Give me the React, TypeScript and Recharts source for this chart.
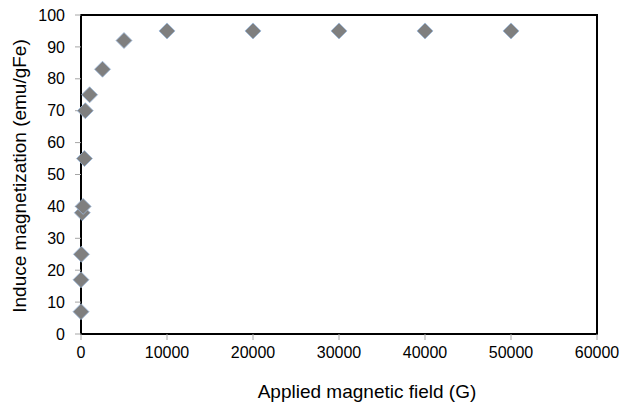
import React from 'react';
import { ScatterChart, Scatter, XAxis, YAxis, ReferenceArea } from 'recharts';

const fieldG = [0, 0, 50, 150, 250, 400, 500, 1000, 2500, 5000, 10000, 20000, 30000, 40000, 50000];
const magnetization = [7, 17, 25, 38, 40, 55, 70, 75, 83, 92, 95, 95, 95, 95, 95];
const xTicks = [0, 10000, 20000, 30000, 40000, 50000, 60000];
const yTicks = [0, 10, 20, 30, 40, 50, 60, 70, 80, 90, 100];

const data = fieldG.map((x, i) => ({ x, y: magnetization[i] }));

const FONT = '"Liberation Sans", Arial, sans-serif';

const Diamond = (props: any) => {
  const { cx, cy } = props;
  const r = 8;
  return (
    <path
      d={`M${cx},${cy - r}L${cx + r},${cy}L${cx},${cy + r}L${cx - r},${cy}Z`}
      fill="#7f7f7f"
      stroke="#9cb9dc"
      strokeWidth={0.8}
    />
  );
};

export default function App() {
  return (
    <div style={{ position: 'absolute', left: 0, top: 0, background: '#fff' }}>
      <ScatterChart width={622} height={408} margin={{ top: 15, right: 25, left: 0, bottom: 0 }}>
        <XAxis
          type="number"
          dataKey="x"
          domain={[0, 60000]}
          ticks={xTicks}
          interval={0}
          height={74}
          axisLine={false}
          tickLine={{ stroke: '#a6a6a6' }}
          tickSize={6}
          tickMargin={7}
          tick={{ fill: '#000', fontSize: 16, fontFamily: FONT }}
          label={{
            content: (p: any) => {
              const vb = p.viewBox;
              return (
                <text
                  x={vb.x + vb.width / 2 + 28}
                  y={vb.y + 64}
                  textAnchor="middle"
                  fontSize={19}
                  fontFamily={FONT}
                  fill="#000"
                >
                  Applied magnetic field (G)
                </text>
              );
            },
          }}
        />
        <YAxis
          type="number"
          dataKey="y"
          domain={[0, 100]}
          ticks={yTicks}
          interval={0}
          width={81}
          axisLine={false}
          tickLine={{ stroke: '#a6a6a6' }}
          tickSize={6}
          tickMargin={10}
          tick={{ fill: '#000', fontSize: 16, fontFamily: FONT }}
          label={{
            content: (p: any) => {
              const vb = p.viewBox;
              const cx = vb.x + 26;
              const cy = vb.y + vb.height / 2 + 1.5;
              return (
                <text
                  x={cx}
                  y={cy}
                  transform={`rotate(-90 ${cx} ${cy})`}
                  textAnchor="middle"
                  fontSize={19}
                  fontFamily={FONT}
                  fill="#000"
                >
                  Induce magnetization (emu/gFe)
                </text>
              );
            },
          }}
        />
        <Scatter data={data} shape={Diamond} isAnimationActive={false} />
        <ReferenceArea x1={0} x2={60000} y1={0} y2={100} fill="none" stroke="#000" strokeWidth={2} fillOpacity={0} />
      </ScatterChart>
    </div>
  );
}
